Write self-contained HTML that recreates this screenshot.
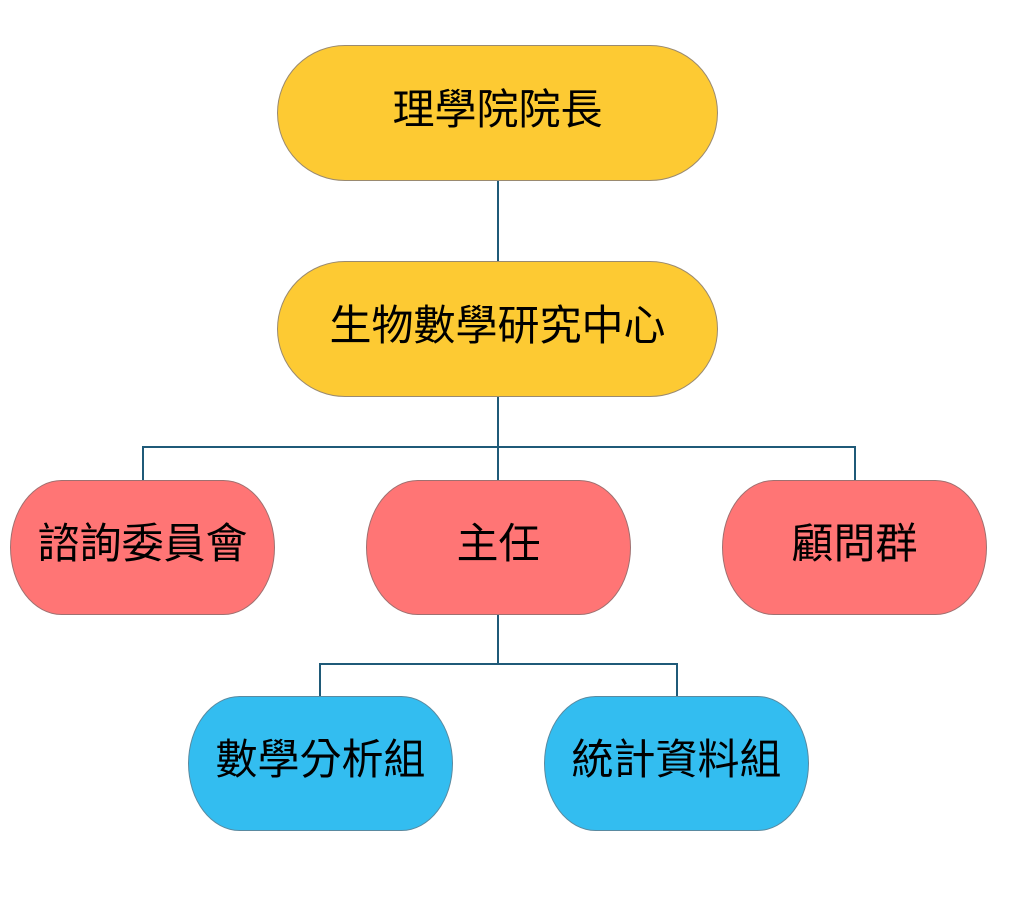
<!DOCTYPE html>
<html><head><meta charset="utf-8"><style>
body{margin:0;width:1024px;height:898px;background:#fff;position:relative;overflow:hidden;font-family:"Liberation Sans","Noto Sans CJK TC",sans-serif;}
.n{position:absolute;box-sizing:border-box;border:1px solid #9a8a70;display:flex;align-items:center;justify-content:center;font-size:42px;color:#000;padding-bottom:14px;}
.y{background:#fdca33;border-radius:68px;width:441px;height:136px;left:277px;}
.r{background:#ff7575;border-radius:52px/68px;width:265px;height:135px;top:480px;border-color:#a07070;}
.b{background:#33bdf0;border-radius:52px/68px;width:265px;height:135px;top:696px;border-color:#5a8aa0;}
.l{position:absolute;background:#1f5a78;}
</style></head><body>
<div class="l" style="left:497px;top:180px;width:2px;height:82px"></div>
<div class="l" style="left:497px;top:396px;width:2px;height:85px"></div>
<div class="l" style="left:142px;top:446px;width:714px;height:2px"></div>
<div class="l" style="left:142px;top:446px;width:2px;height:35px"></div>
<div class="l" style="left:854px;top:446px;width:2px;height:35px"></div>
<div class="l" style="left:497px;top:614px;width:2px;height:50px"></div>
<div class="l" style="left:319px;top:663px;width:359px;height:2px"></div>
<div class="l" style="left:319px;top:663px;width:2px;height:34px"></div>
<div class="l" style="left:676px;top:663px;width:2px;height:34px"></div>
<div class="n y" style="top:45px">理學院院長</div>
<div class="n y" style="top:261px">生物數學研究中心</div>
<div class="n r" style="left:10px">諮詢委員會</div>
<div class="n r" style="left:366px">主任</div>
<div class="n r" style="left:722px">顧問群</div>
<div class="n b" style="left:188px">數學分析組</div>
<div class="n b" style="left:544px">統計資料組</div>
</body></html>
